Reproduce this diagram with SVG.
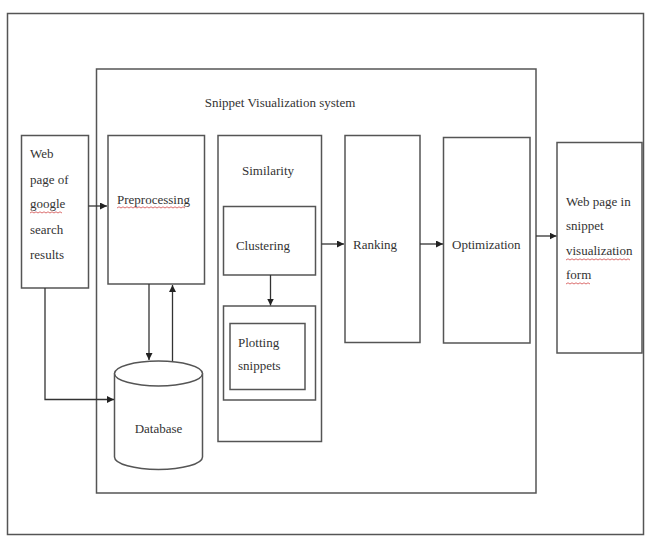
<svg xmlns="http://www.w3.org/2000/svg" width="647" height="538" viewBox="0 0 647 538">
<style>
.box{fill:#fff;stroke:#555;stroke-width:1.5}
.frame{fill:none;stroke:#555;stroke-width:1.5}
text{font-family:'Liberation Serif','DejaVu Serif','Times New Roman',serif;font-size:13px;fill:#333}
.c{stroke:#333;stroke-width:1.3;fill:none}
.sq{stroke:#d24a4a;stroke-width:0.8;fill:none}
</style>
<defs>
<marker id="ah" viewBox="0 0 10 10" refX="10" refY="5" markerWidth="7" markerHeight="7" markerUnits="userSpaceOnUse" orient="auto">
<path d="M0,0 L10,5 L0,10 Z" fill="#222"/>
</marker>
</defs>
<rect width="647" height="538" fill="#fff"/>
<g id="outer-frame"><rect class="frame" x="7.5" y="13.5" width="636" height="521"/></g>
<g id="system">
<rect class="frame" x="96.5" y="69" width="439.5" height="424"/>
<text x="280" y="107" text-anchor="middle" font-family="Liberation Serif, serif">Snippet Visualization system</text>
</g>
<g id="webpage">
<rect class="box" x="21.5" y="135.5" width="67" height="152.5"/>
<text x="30" y="158">Web</text>
<text x="30" y="184">page of</text>
<text x="30" y="208">google</text>
<text x="30" y="234">search</text>
<text x="30" y="259">results</text>
<path class="sq" d="M30,213 l2,-1.2 l2,1.2 l2,-1.2 l2,1.2 l2,-1.2 l2,1.2 l2,-1.2 l2,1.2 l2,-1.2 l2,1.2 l2,-1.2 l2,1.2 l2,-1.2 l2,1.2 l2,-1.2 l2,1.2"/>
</g>
<g id="preprocessing">
<rect class="box" x="108" y="135.5" width="96.5" height="148.5"/>
<text x="117" y="204">Preprocessing</text>
<path class="sq" d="M117,208 l2,-1.2 l2,1.2 l2,-1.2 l2,1.2 l2,-1.2 l2,1.2 l2,-1.2 l2,1.2 l2,-1.2 l2,1.2 l2,-1.2 l2,1.2 l2,-1.2 l2,1.2 l2,-1.2 l2,1.2 l2,-1.2 l2,1.2 l2,-1.2 l2,1.2 l2,-1.2 l2,1.2 l2,-1.2 l2,1.2 l2,-1.2 l2,1.2 l2,-1.2 l2,1.2 l2,-1.2 l2,1.2 l2,-1.2 l2,1.2 l2,-1.2 l2,1.2"/>
</g>
<g id="similarity">
<rect class="box" x="218" y="135.5" width="103.5" height="306"/>
<text x="268" y="175" text-anchor="middle">Similarity</text>
</g>
<g id="clustering">
<rect class="box" x="223.5" y="206.5" width="92" height="68.5"/>
<text x="263" y="250" text-anchor="middle">Clustering</text>
</g>
<g id="plotting">
<rect class="box" x="223.5" y="306" width="92" height="94"/>
<rect class="box" x="230" y="323.5" width="75" height="66"/>
<text x="238" y="347">Plotting</text>
<text x="238" y="370">snippets</text>
</g>
<g id="ranking">
<rect class="box" x="345" y="135.5" width="75" height="207"/>
<text x="353" y="249">Ranking</text>
</g>
<g id="optimization">
<rect class="box" x="443.5" y="137.5" width="86.5" height="205.5"/>
<text x="452" y="249">Optimization</text>
</g>
<g id="output">
<rect class="box" x="557" y="142.5" width="85" height="210.5"/>
<text x="566" y="206">Web page in</text>
<text x="566" y="230">snippet</text>
<text x="566" y="255">visualization</text>
<text x="566" y="279">form</text>
<path class="sq" d="M566,260 l2,-1.2 l2,1.2 l2,-1.2 l2,1.2 l2,-1.2 l2,1.2 l2,-1.2 l2,1.2 l2,-1.2 l2,1.2 l2,-1.2 l2,1.2 l2,-1.2 l2,1.2 l2,-1.2 l2,1.2 l2,-1.2 l2,1.2 l2,-1.2 l2,1.2 l2,-1.2 l2,1.2 l2,-1.2 l2,1.2 l2,-1.2 l2,1.2 l2,-1.2 l2,1.2 l2,-1.2 l2,1.2 l2,-1.2 l2,1.2"/>
<path class="sq" d="M566,284 l2,-1.2 l2,1.2 l2,-1.2 l2,1.2 l2,-1.2 l2,1.2 l2,-1.2 l2,1.2 l2,-1.2 l2,1.2 l2,-1.2 l2,1.2"/>
</g>
<g id="database">
<path class="box" d="M114.5,373.5 L114.5,457 A44,12.5 0 0 0 202.5,457 L202.5,373.5"/>
<ellipse class="box" cx="158.5" cy="373.5" rx="44" ry="12.5"/>
<text x="158.5" y="433" text-anchor="middle">Database</text>
</g>
<g id="connectors">
<line class="c" x1="88.5" y1="206" x2="107" y2="206" marker-end="url(#ah)"/>
<polyline class="c" points="45,288 45,399.5 114,399.5" marker-end="url(#ah)"/>
<line class="c" x1="149" y1="284" x2="149" y2="360" marker-end="url(#ah)"/>
<line class="c" x1="172.5" y1="361" x2="172.5" y2="285" marker-end="url(#ah)"/>
<line class="c" x1="270.5" y1="275" x2="270.5" y2="305.5" marker-end="url(#ah)"/>
<line class="c" x1="321.5" y1="244" x2="344" y2="244" marker-end="url(#ah)"/>
<line class="c" x1="420" y1="244" x2="443" y2="244" marker-end="url(#ah)"/>
<line class="c" x1="536" y1="236" x2="556.5" y2="236" marker-end="url(#ah)"/>
</g>
</svg>
